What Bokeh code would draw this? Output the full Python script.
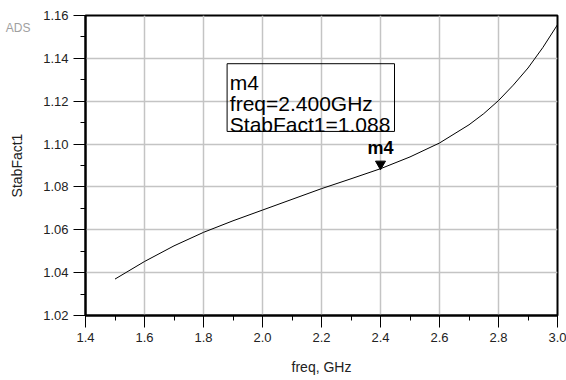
from bokeh.plotting import figure
from bokeh.models import Range1d, FixedTicker, Label, BoxAnnotation, LinearAxis
from bokeh.embed import file_html
from bokeh.resources import INLINE

# ---- data ----
freq = [1.5, 1.6, 1.7, 1.8, 1.9, 2.0, 2.1, 2.2, 2.3, 2.4, 2.5, 2.6, 2.7, 2.75, 2.8, 2.85, 2.9, 2.95, 3.0]
stab = [1.0370, 1.0452, 1.0525, 1.0588, 1.0642, 1.0692, 1.0742, 1.0792, 1.0838, 1.0885,
        1.0940, 1.1005, 1.1090, 1.1142, 1.1203, 1.1275, 1.1355, 1.1450, 1.1557]

x_ticks = [1.4, 1.6, 1.8, 2.0, 2.2, 2.4, 2.6, 2.8, 3.0]
x_tick_labels = ["1.4", "1.6", "1.8", "2.0", "2.2", "2.4", "2.6", "2.8", "3.0"]
y_ticks = [1.02, 1.04, 1.06, 1.08, 1.10, 1.12, 1.14, 1.16]
y_tick_labels = ["1.02", "1.04", "1.06", "1.08", "1.10", "1.12", "1.14", "1.16"]

marker_name = "m4"
marker_freq = 2.4
marker_val = 1.088

FONT = "Liberation Sans"

x0, x1 = 1.4, 3.0
y0, y1 = 1.02, 1.16

W, H = 566, 380
BL, BR, BT, BB = 85, 9, 15, 65

p = figure(width=W, height=H, output_backend="svg", toolbar_location=None,
           x_range=Range1d(x0, x1), y_range=Range1d(y0, y1),
           min_border_left=BL, min_border_right=BR, min_border_top=BT, min_border_bottom=BB)
p.background_fill_color = "white"
p.border_fill_color = "white"
p.outline_line_color = "black"
p.outline_line_width = 2

x_minor = [(a + b) / 2 for a, b in zip(x_ticks[:-1], x_ticks[1:])]
y_minor = [(a + b) / 2 for a, b in zip(y_ticks[:-1], y_ticks[1:])]

p.xaxis.ticker = FixedTicker(ticks=x_ticks, minor_ticks=x_minor)
p.yaxis.ticker = FixedTicker(ticks=y_ticks, minor_ticks=y_minor)
p.xaxis.major_label_overrides = {t: l for t, l in zip(x_ticks, x_tick_labels)}
p.yaxis.major_label_overrides = {t: l for t, l in zip(y_ticks, y_tick_labels)}

for ax in (p.xaxis, p.yaxis):
    ax.axis_line_color = "black"
    ax.axis_line_width = 2
    ax.major_tick_line_color = "black"
    ax.major_tick_line_width = 1
    ax.major_tick_out = 12
    ax.major_tick_in = 0
    ax.minor_tick_line_color = "black"
    ax.minor_tick_line_width = 1
    ax.minor_tick_out = 5
    ax.minor_tick_in = 0
    ax.major_label_text_font = FONT
    ax.major_label_text_font_size = "13px"
    ax.major_label_text_color = "#222222"
    ax.major_label_standoff = 5
    ax.axis_label_text_font = FONT
    ax.axis_label_text_font_size = "14px"
    ax.axis_label_text_font_style = "normal"
    ax.axis_label_text_color = "#222222"

p.xaxis.axis_label = "freq, GHz"
p.xaxis.axis_label_standoff = 14

p.xgrid.grid_line_color = "#c4c4c4"
p.ygrid.grid_line_color = "#c4c4c4"
p.xgrid.grid_line_width = 1.5
p.ygrid.grid_line_width = 1.5

p.line(freq, stab, line_color="black", line_width=1)

# marker triangle: tip at the marker point
frame_h = H - BT - BB
px_to_y = (y1 - y0) / frame_h
tri_size = 10
tip_offset_px = (tri_size / 2) * (3 ** 0.5) * 2 / 3
p.scatter([marker_freq], [marker_val + tip_offset_px * px_to_y], marker="inverted_triangle",
          size=tri_size, fill_color="black", line_color="black")

p.add_layout(Label(x=marker_freq, y=marker_val, y_offset=22, text=marker_name,
                   text_align="center", text_baseline="alphabetic",
                   text_font=FONT, text_font_size="18px", text_font_style="bold",
                   text_color="black"))

# readout box
p.add_layout(BoxAnnotation(left=1.880, right=2.4475, top=1.1375, bottom=1.1059,
                           fill_alpha=0, line_color="black", line_width=1, line_alpha=1))
box_lines = [marker_name, "freq=%.3fGHz" % marker_freq, "StabFact1=%.3f" % marker_val]
box_y = [1.12887, 1.11879, 1.10913]
for t, yy in zip(box_lines, box_y):
    p.add_layout(Label(x=1.8892, y=yy, text=t, text_align="left", text_baseline="alphabetic",
                       text_font=FONT, text_font_size="21px", text_color="black"))

# outer left axis: carries the "ADS" watermark as its only tick label, and the y-axis title
ads_y = y1 - 12 * px_to_y
outer = LinearAxis(ticker=FixedTicker(ticks=[ads_y], minor_ticks=[]),
                   major_label_overrides={ads_y: "ADS"},
                   axis_line_color=None, major_tick_line_color=None,
                   minor_tick_line_color=None, major_tick_out=0, major_tick_in=0,
                   major_label_standoff=10, major_label_text_font=FONT,
                   major_label_text_font_size="12px", major_label_text_color="#a0a0a0",
                   axis_label="StabFact1", axis_label_standoff=-22,
                   axis_label_text_font=FONT, axis_label_text_font_size="14px",
                   axis_label_text_font_style="normal", axis_label_text_color="#222222")
p.add_layout(outer, "left")

open("out.html", "w").write(file_html(p, INLINE))
